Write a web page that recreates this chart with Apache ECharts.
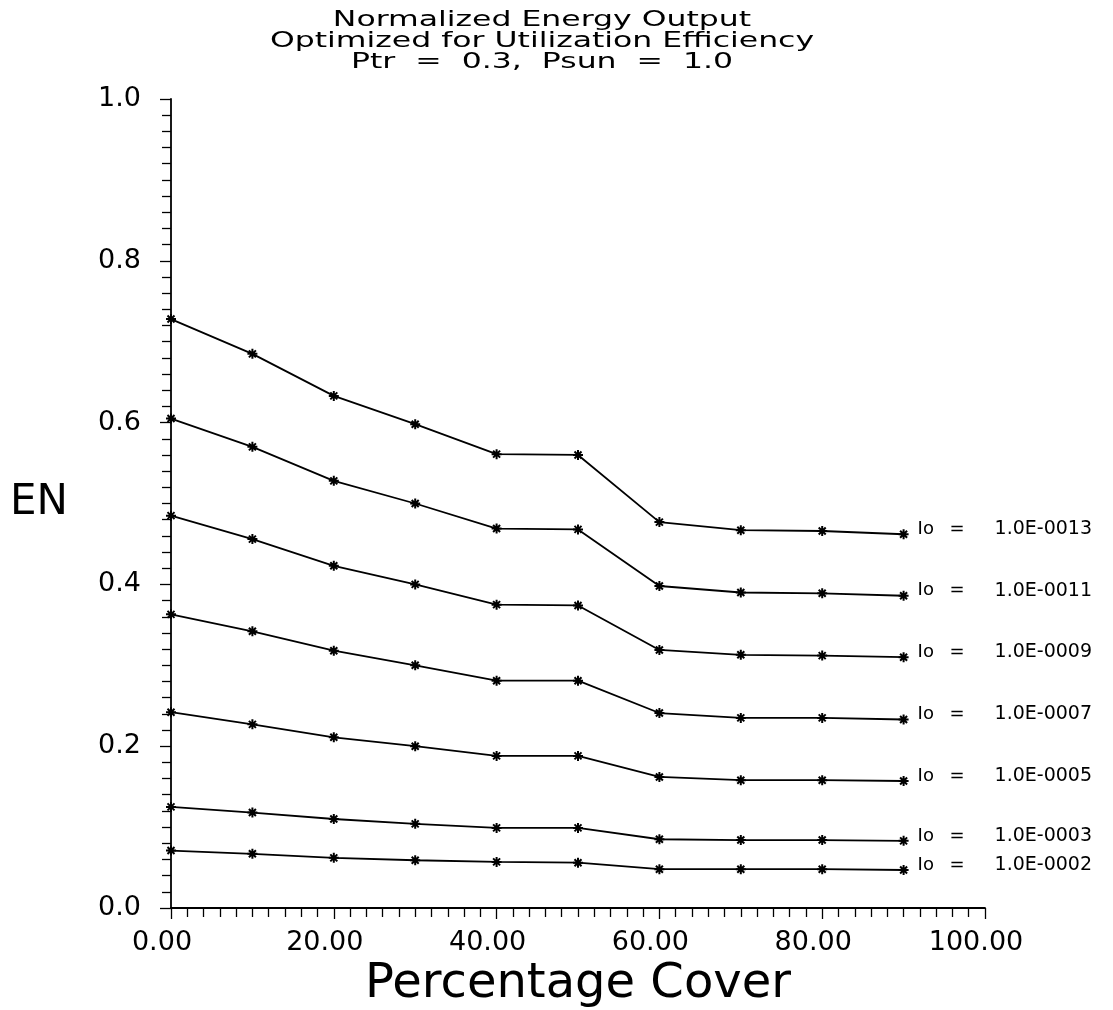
<!DOCTYPE html>
<html>
<head>
<meta charset="utf-8">
<script src="https://cdn.jsdelivr.net/npm/echarts@6/dist/echarts.min.js"></script>
<style>
html,body{margin:0;padding:0;background:#fff;}
#chart{width:1113px;height:1010px;}
</style>
</head>
<body>
<div id="chart"></div>
<script>
// ---- data ----
var coverPct = [0, 10, 20, 30, 40, 50, 60, 70, 80, 90];
var ioLabels = ['1.0E-0013', '1.0E-0011', '1.0E-0009', '1.0E-0007', '1.0E-0005', '1.0E-0003', '1.0E-0002'];
var en_1e13 = [0.728, 0.685, 0.633, 0.598, 0.561, 0.560, 0.477, 0.467, 0.466, 0.462];
var en_1e11 = [0.605, 0.570, 0.528, 0.500, 0.469, 0.468, 0.398, 0.390, 0.389, 0.386];
var en_1e09 = [0.485, 0.456, 0.423, 0.400, 0.375, 0.374, 0.319, 0.313, 0.312, 0.310];
var en_1e07 = [0.363, 0.342, 0.318, 0.300, 0.281, 0.281, 0.241, 0.235, 0.235, 0.233];
var en_1e05 = [0.242, 0.227, 0.211, 0.200, 0.188, 0.188, 0.162, 0.158, 0.158, 0.157];
var en_1e03 = [0.125, 0.118, 0.110, 0.104, 0.099, 0.099, 0.085, 0.084, 0.084, 0.083];
var en_1e02 = [0.071, 0.067, 0.062, 0.059, 0.057, 0.056, 0.048, 0.048, 0.048, 0.047];
var allSeries = [en_1e13, en_1e11, en_1e09, en_1e07, en_1e05, en_1e03, en_1e02];
var xTicks = [0, 20, 40, 60, 80, 100];
var yTicks = [0, 0.2, 0.4, 0.6, 0.8, 1.0];
var titleLines = ['Normalized Energy Output', 'Optimized for Utilization Efficiency', 'Ptr  =  0.3,  Psun  =  1.0'];

var FONT = 'DejaVu Sans';
var asterisk = 'path://M0,-10L0,10M-10,0L10,0M-7,-7L7,7M-7,7L7,-7';

var series = allSeries.map(function (vals, i) {
  return {
    name: ioLabels[i],
    type: 'line',
    data: coverPct.map(function (x, j) { return [x, vals[j]]; }),
    symbol: asterisk,
    symbolSize: 10,
    showAllSymbol: true,
    lineStyle: { color: '#000', width: 1.8 },
    itemStyle: { color: 'none', borderColor: '#000', borderWidth: 2 },
    emphasis: { disabled: true },
    animation: false,
    endLabel: {
      show: true,
      distance: 14,
      offset: [0, -5],
      formatter: function (p) { return '{a|Io}{b|=}{c|' + p.seriesName + '}'; },
      rich: {
        a: { width: 32, fontSize: 18, fontFamily: FONT, color: '#000' },
        b: { width: 45, fontSize: 18, fontFamily: FONT, color: '#000' },
        c: { fontSize: 19, fontFamily: FONT, color: '#000' }
      }
    }
  };
});

var titleGraphics = titleLines.map(function (t, i) {
  return {
    type: 'text',
    x: 542,
    y: 21 + i * 21,
    scaleX: 1.5,
    style: {
      text: t,
      fontFamily: FONT,
      fontSize: 21,
      fill: '#000',
      textAlign: 'center',
      textVerticalAlign: 'middle'
    }
  };
});

var chart = echarts.init(document.getElementById('chart'), null, { renderer: 'canvas' });
chart.setOption({
  backgroundColor: '#fff',
  animation: false,
  graphic: titleGraphics,
  grid: { left: 171, right: 128, top: 99, bottom: 102, containLabel: false, outerBoundsMode: 'none' },
  xAxis: {
    type: 'value', min: 0, max: 100, interval: 20,
    name: 'Percentage Cover', nameLocation: 'middle', nameGap: 49,
    nameTextStyle: { fontFamily: FONT, fontSize: 48, color: '#000' },
    axisLine: { lineStyle: { color: '#000', width: 1.8 } },
    axisTick: { show: true, inside: false, length: 11, lineStyle: { color: '#000', width: 1.3 } },
    minorTick: { show: true, splitNumber: 10, length: 9, lineStyle: { color: '#000', width: 1.3 } },
    splitLine: { show: false },
    axisLabel: { fontFamily: FONT, fontSize: 27, color: '#000', margin: 21, padding: [0, 18, 0, 0],
      formatter: function (v) { return xTicks.indexOf(v) >= 0 ? v.toFixed(2) : ''; } }
  },
  yAxis: {
    type: 'value', min: 0, max: 1, interval: 0.2,
    name: 'EN', nameLocation: 'middle', nameRotate: 0, nameGap: 103,
    nameTextStyle: { fontFamily: FONT, fontSize: 42, color: '#000' },
    axisLine: { lineStyle: { color: '#000', width: 1.8 } },
    axisTick: { show: true, inside: false, length: 11, lineStyle: { color: '#000', width: 1.3 } },
    minorTick: { show: true, splitNumber: 10, length: 9, lineStyle: { color: '#000', width: 1.3 } },
    splitLine: { show: false },
    axisLabel: { fontFamily: FONT, fontSize: 27, color: '#000', margin: 30,
      formatter: function (v) { return v.toFixed(1); } }
  },
  series: series
});
</script>
</body>
</html>
